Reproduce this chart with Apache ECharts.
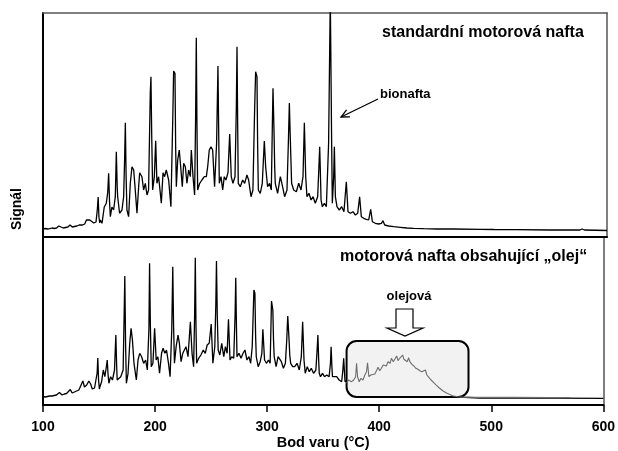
<!DOCTYPE html>
<html>
<head>
<meta charset="utf-8">
<script src="https://cdn.jsdelivr.net/npm/echarts@6/dist/echarts.min.js"></script>
<style>html,body{margin:0;padding:0;background:#fff}#c{width:618px;height:451px}</style>
</head>
<body>
<div id="c"></div>
<script>
// x: boiling point (°C), y: signal (arbitrary units)
const xTicks = [100, 200, 300, 400, 500, 600];

const topTrace = [
[100,8],[102,8.5],[104,8],[106,8.3],[108,9],[110,8.5],[112,9],[114,11],[116,10],[118,9],[120,9.5],[122,10],[124,12],[126,10],[128,10.5],[130,11],[132,12],[133.5,14],[135,12],[137,13],[138.5,17],[140,19],[141.5,17],[143,16],[145,14],[147,15],[148.2,28],[148.9,40],[149.6,20],[150.3,14],[150.8,17],[152.3,13.7],[154.3,30],[156.1,33.7],[157.4,45],[158.2,63.7],[159,35],[159.7,20.3],[161.1,30],[162.6,27],[164.1,40.3],[165,85.3],[165.8,50],[166.2,40.3],[167.9,23.7],[170,27],[171.5,40.3],[172.4,80],[173,114.3],[173.7,60],[174.4,27],[175.9,20.3],[177.4,53.7],[178.9,70.3],[180.4,67],[181.8,47],[183.3,23.7],[184.8,50.3],[185.7,64.3],[187.7,60.3],[189.2,47],[190.7,53.7],[192.2,42],[193.6,47],[195.1,143.7],[195.7,160.3],[196.4,100],[197.2,47],[198.7,60.3],[199.9,96.3],[201,53.7],[202.5,60.3],[204.9,33.7],[206.4,64.3],[207.8,60.3],[209.3,67],[211.4,57],[213.4,30.3],[215.2,127],[215.8,166],[217,163.7],[217.6,90],[218.2,50.3],[219.4,77],[220.8,87],[222.3,67],[223.5,50.3],[224.7,73.7],[226.2,70.3],[227.6,53.7],[229.1,67],[230.6,60.3],[231.5,87],[233,60.3],[234.4,42],[235.3,120],[235.9,199.3],[236.5,110],[237.1,47],[238.9,53.7],[240.9,57],[243,60.3],[244.8,60.3],[246,70.3],[247.4,87],[248.9,90.3],[250.4,87],[252.1,50.3],[253.9,93.7],[255.1,171],[255.8,100],[256.3,53.7],[257.8,60.3],[259.3,47],[260.7,60.3],[262.2,57],[264,64.3],[265.5,103],[266.9,60.3],[268.4,53.7],[270.2,60.3],[271.4,130],[272,190.3],[272.6,110],[273.1,53.7],[274.9,50.3],[277,57],[278.8,53.7],[280.8,62],[282.3,57],[284.4,40.3],[286.1,47],[287.6,127],[288.5,165.3],[289.7,160.3],[290.3,90],[290.9,47],[292.6,43.7],[294.4,53.7],[296.2,96],[297.4,70.3],[299.1,50.3],[300.9,53.7],[302.4,47],[303.3,110],[303.9,148.7],[304.8,105.3],[305.4,70],[305.9,53.7],[308,43.7],[310.4,60.3],[312.4,50.3],[314.2,40.3],[316.3,47],[317.5,93.7],[318.4,134],[319.2,100.3],[320.4,53.7],[322.2,47],[324.6,45.3],[326.7,53.7],[328.7,47],[330.5,60.3],[331.7,114.3],[332.9,60.3],[334,40.3],[335.8,43.7],[337.6,37],[339.4,40.3],[341.4,33.7],[343.5,40.3],[344.6,70],[345.3,90.3],[346,60],[346.5,37],[347.6,30.3],[349.4,33.7],[351.2,30.3],[353.2,93.7],[354.7,240],[355.9,93.7],[356.5,33.7],[357.7,60.3],[358.3,90.3],[359.2,40.3],[360.6,30.3],[362.7,27],[364.8,30.3],[366.8,25.3],[368.9,55.3],[370.4,25.3],[372.5,23.7],[374.8,25.3],[376.9,22],[379,23.7],[380.7,40.3],[382.2,20.3],[384.3,18.7],[386.6,17.7],[388.7,17],[390.5,27.7],[392,15.3],[394.6,13.7],[397.6,13],[400,13.7],[401.4,16.3],[402.9,12],[406.4,11],[410.9,10.3],[416.8,9.7],[422.7,9],[428.6,8.7],[437.5,8.3],[449.3,8],[464,8],[487.7,7.7],[500,7.5],[520,7.3],[550,7],[576,7],[578,8],[580,7],[600,6.5]
];

const bottomTrace = [
[100,8.5],[102,8],[104,8.5],[106,9],[108,9],[110,9.5],[112,10],[114.7,12.5],[117,10],[119,11],[121,11.5],[122.5,13],[124.4,15.5],[126,12],[128,13],[130,14],[132,15],[133.5,17],[135.6,24],[137,18],[139,20],[140.9,24],[142.5,21],[144,16],[146,17],[147.5,19],[148.3,32],[148.9,47],[149.6,25],[150.3,16],[150.8,18.3],[152.3,23.3],[153.8,35],[155.2,28.3],[156.5,38],[157.3,45],[158.1,30],[158.8,21.7],[160.3,28.3],[162,25],[163.8,35],[165,70],[165.7,40],[166.2,25],[167.6,23.3],[169.4,28.3],[171.5,35],[172.4,90],[173,129],[173.7,60],[174.4,21.7],[175.9,31.7],[177.4,61.7],[178.6,76.7],[179.8,65],[181.2,41.7],[183.3,25],[184.8,45],[186.3,51.7],[188,48.3],[189.8,41.7],[191.6,45],[193.1,35],[194.5,75],[195.1,141.7],[195.8,80],[196.6,38.3],[198.1,41.7],[199.6,76.7],[201,45],[202.5,48.3],[204,31.7],[205.8,51.7],[207.2,56.7],[208.7,51.7],[210.2,55],[212,41.7],[213.4,28.3],[214.9,75],[215.8,138.3],[216.5,80],[217.3,41.7],[218.8,58.3],[220.5,70],[221.7,61.7],[223.2,43.3],[224.7,51.7],[226.2,53.3],[227.6,58.3],[229.4,48.3],[230.6,68.3],[231.5,83.3],[233,51.7],[234.4,38.3],[235.3,90],[235.9,147.3],[236.5,80],[237.1,41.7],[238.9,46.7],[240.9,50],[243,55],[244.8,51.7],[246.5,60],[248.3,61.7],[250.1,81],[251.6,41.7],[253.3,58.3],[254.2,100],[254.8,144],[255.5,90],[256.3,55],[257.8,50],[259.5,61.7],[261.3,48.3],[262.8,58.3],[264.3,51.7],[265.5,85.7],[266.9,45],[268.4,48.3],[270.2,46.7],[271.4,90],[272,127.3],[272.6,80],[273.1,48.3],[274.9,51.7],[276.7,46.7],[278.5,51.7],[280.2,55],[282,45],[283.8,48.3],[285.3,41.7],[286.7,58.3],[288.2,115],[289.1,111.7],[289.7,70],[290.3,48.3],[292,38.3],[293.8,43.3],[295.3,51.7],[296.2,75.7],[297.7,45],[299.4,41.7],[301.2,45],[302.7,41.7],[303.9,104],[305.1,95],[305.7,65],[306.3,48.3],[308,38.3],[309.8,48.3],[311.3,50],[312.7,43.3],[314.5,36.7],[316.3,41.7],[317.5,65],[318.4,89],[319.5,66.7],[320.2,50],[321,41.7],[322.8,38.3],[324.6,38.3],[326.7,41.7],[328.7,35],[330.5,48.3],[331.7,83.3],[332.9,45],[334,31.7],[335.8,38.3],[337.6,33.3],[339.4,36.7],[341.4,31.7],[343.5,35],[344.6,55],[345.3,70],[346,45],[346.5,31.7],[347.6,28.3],[349.4,31.7],[351.2,28.3],[353.2,30],[355.3,28.3],[356.5,41.7],[357.1,58.3],[357.8,38],[358.3,28.3],[360,26.7],[362.1,28.3],[364.2,25],[366.5,23.3],[367.6,35],[368.3,46.7],[369,33],[369.5,23.3],[371,21.7]
];

const oilFraction = [
[371,21.7],[372.5,25],[374,26.7],[375.4,23.3],[377.2,25],[379,28.3],[379.8,41.7],[380.7,28.3],[382.2,23.3],[383.7,26.7],[385.5,25],[387.2,30],[388.7,33.3],[389.6,42.3],[390.8,28.3],[392.6,30],[394.3,31.7],[396.1,31],[397.9,35],[399,37.7],[400.5,34.3],[402,36.7],[403.5,40],[405,41.7],[406.4,39],[407.9,43.3],[409.7,41.7],[410.9,46.7],[412.6,43.3],[414.4,46.7],[415.6,49],[416.8,44.3],[418.3,46.7],[419.7,48.3],[420.9,50],[422.1,45.7],[423.6,46.7],[425.1,43.3],[426.2,47.3],[427.4,43.3],[429.2,40.7],[431,39],[432.7,36.7],[434.5,35.7],[436.3,34.3],[438.1,33.3],[439.8,31.7],[441.3,35],[442.5,30],[444.3,27.7],[446.3,25],[448.7,22.3],[451.1,19.7],[453.7,17],[456.7,14.3],[459.6,12.3],[462.6,10.7],[465.5,9.3],[470,8.3],[475.9,7.7],[490,7.6],[520,7.6],[550,7.5],[570,7.5]
];

const bottomTail = [[475.9,7.7],[480,7.5],[490,7],[520,6.8],[560,6.8],[600,6.7]];

// annotation box around the oil region (°C and signal units)
const oilBox = { x1: 370.9, x2: 479.7, y1: 64, y2: 8 };

const FONT = 'Liberation Sans, Arial, sans-serif';
const chart = echarts.init(document.getElementById('c'));

const hiddenAxis = (extra) => Object.assign({
  type: 'value', axisTick: {show: false}, axisLabel: {show: false}, splitLine: {show: false}
}, extra);

const bottomBlack = bottomTrace.concat(oilFraction.filter(p => p[0] < 475), bottomTail);

chart.setOption({
  animation: false,
  backgroundColor: '#fff',
  grid: [
    {left: 43, right: 11, top: 13, height: 224},
    {left: 43, right: 11, top: 237, height: 168}
  ],
  xAxis: [
    hiddenAxis({gridIndex: 0, min: 100, max: 600, position: 'bottom',
      axisLine: {show: true, onZero: false, lineStyle: {color: '#000', width: 2}}}),
    hiddenAxis({gridIndex: 0, min: 100, max: 600, position: 'top',
      axisLine: {show: true, onZero: false, lineStyle: {color: '#555', width: 1.5}}}),
    {type: 'value', gridIndex: 1, min: xTicks[0], max: xTicks[xTicks.length - 1], interval: 100,
      position: 'bottom',
      axisLine: {show: true, onZero: false, lineStyle: {color: '#000', width: 2}},
      axisTick: {show: true, length: 7, lineStyle: {color: '#000', width: 1.5}},
      axisLabel: {margin: 15, fontSize: 14, fontWeight: 'bold', color: '#000', fontFamily: FONT},
      splitLine: {show: false},
      name: 'Bod varu (°C)', nameLocation: 'middle', nameGap: 30,
      nameTextStyle: {fontSize: 14.5, fontWeight: 'bold', color: '#000', fontFamily: FONT}}
  ],
  yAxis: [
    hiddenAxis({gridIndex: 0, min: 0, max: 224, position: 'left',
      axisLine: {show: true, onZero: false, lineStyle: {color: '#000', width: 2}}}),
    hiddenAxis({gridIndex: 0, min: 0, max: 224, position: 'right',
      axisLine: {show: true, onZero: false, lineStyle: {color: '#555', width: 1.5}}}),
    hiddenAxis({gridIndex: 1, min: 0, max: 168, position: 'left',
      axisLine: {show: true, onZero: false, lineStyle: {color: '#000', width: 2}}}),
    hiddenAxis({gridIndex: 1, min: 0, max: 168, position: 'right',
      axisLine: {show: true, onZero: false, lineStyle: {color: '#555', width: 1.5}}})
  ],
  series: [
    {type: 'line', xAxisIndex: 0, yAxisIndex: 0, data: topTrace, showSymbol: false, z: 2,
      clip: true, lineStyle: {color: '#000', width: 1.3}},
    {type: 'line', xAxisIndex: 2, yAxisIndex: 2, data: bottomBlack, showSymbol: false, z: 2,
      clip: true, lineStyle: {color: '#000', width: 1.3}},
    {type: 'line', xAxisIndex: 2, yAxisIndex: 2, data: oilFraction, showSymbol: false, z: 6,
      clip: true, lineStyle: {color: '#6e6e6e', width: 1.1}}
  ]
});

// annotations
const p1 = chart.convertToPixel({gridIndex: 1}, [oilBox.x1, oilBox.y1]);
const p2 = chart.convertToPixel({gridIndex: 1}, [oilBox.x2, oilBox.y2]);

const tail = [378, 99], tip = [341, 117];
const dx = tip[0] - tail[0], dy = tip[1] - tail[1];
const L = Math.hypot(dx, dy), ux = dx / L, uy = dy / L;
const hl = 9, ha = Math.PI / 7;
const rot = (a) => [ux * Math.cos(a) - uy * Math.sin(a), ux * Math.sin(a) + uy * Math.cos(a)];
const r1 = rot(ha), r2 = rot(-ha);

chart.setOption({
  graphic: [
    {type: 'rect', z: 4, shape: {x: p1[0], y: p1[1], width: p2[0] - p1[0], height: p2[1] - p1[1], r: 10},
      style: {fill: '#f2f2f2', stroke: '#000', lineWidth: 2}},
    {type: 'text', z: 10, left: 382, top: 25, style: {text: 'standardní motorová nafta', font: 'bold 16px ' + FONT, fill: '#000'}},
    {type: 'text', z: 10, left: 340, top: 249, style: {text: 'motorová nafta obsahující „olej“', font: 'bold 16px ' + FONT, fill: '#000'}},
    {type: 'text', z: 10, left: 380, top: 88, style: {text: 'bionafta', font: 'bold 13px ' + FONT, fill: '#000'}},
    {type: 'text', z: 10, x: 409, y: 296, style: {text: 'olejová', font: 'bold 13px ' + FONT, fill: '#000', align: 'center', verticalAlign: 'middle'}},
    {type: 'text', z: 10, x: 17, y: 209, rotation: Math.PI / 2,
      style: {text: 'Signál', font: 'bold 14px ' + FONT, fill: '#000', align: 'center', verticalAlign: 'middle'}},
    {type: 'polyline', z: 10, shape: {points: [tail, tip]}, style: {stroke: '#000', lineWidth: 1.3, fill: null}},
    {type: 'polyline', z: 10, shape: {points: [
      [tip[0] - hl * r1[0], tip[1] - hl * r1[1]], tip, [tip[0] - hl * r2[0], tip[1] - hl * r2[1]]]},
      style: {stroke: '#000', lineWidth: 1.3, fill: null}},
    {type: 'polygon', z: 10, shape: {points: [[396, 309], [413, 309], [413, 328], [423, 328], [405, 336], [387, 328], [396, 328]]},
      style: {fill: '#fff', stroke: '#000', lineWidth: 1.2}}
  ]
});
</script>
</body>
</html>
